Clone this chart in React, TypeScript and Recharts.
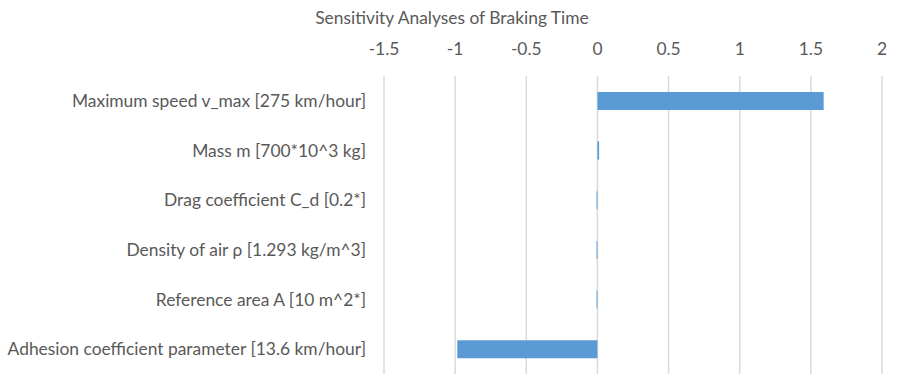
import { BarChart, Bar, XAxis, YAxis, CartesianGrid } from 'recharts'

const parameters = [
  'Maximum speed v_max [275 km/hour]',
  'Mass m [700*10^3 kg]',
  'Drag coefficient C_d [0.2*]',
  'Density of air ρ [1.293 kg/m^3]',
  'Reference area A [10 m^2*]',
  'Adhesion coefficient parameter [13.6 km/hour]',
]
const sensitivity = [1.59, 0.012, -0.006, -0.006, -0.006, -0.985]
const xTicks = [-1.5, -1, -0.5, 0, 0.5, 1, 1.5, 2]

const chartData = parameters.map((name, i) => ({ name, value: sensitivity[i] }))

const textColor = '#595959'
const fontFamily = 'Lato, "Open Sans", sans-serif'
const fontSize = 17.4

export default function App() {
  return (
    <div style={{ position: 'absolute', left: 0, top: 0, width: 900, height: 387, background: '#fff', fontFamily }}>
      <div
        style={{
          position: 'absolute',
          top: 7,
          left: 0,
          width: 900,
          textAlign: 'center',
          fontSize,
          lineHeight: '22px',
          color: textColor,
          paddingLeft: 2,
        }}
      >
        Sensitivity Analyses of Braking Time
      </div>
      <BarChart
        width={900}
        height={387}
        data={chartData}
        layout="vertical"
        margin={{ top: 46, right: 18, bottom: 13, left: 0 }}
        barCategoryGap="32%"
      >
        <CartesianGrid horizontal={false} vertical stroke="#d9d9d9" strokeWidth={1.5} />
        <XAxis
          type="number"
          orientation="top"
          domain={[-1.5, 2]}
          ticks={xTicks}
          height={30}
          axisLine={false}
          tickLine={false}
          tickSize={0}
          tickMargin={21}
          tick={{ fill: textColor, fontSize, fontFamily }}
        />
        <YAxis
          type="category"
          dataKey="name"
          width={384}
          axisLine={false}
          tickLine={false}
          tickSize={0}
          tickMargin={18}
          tick={{ fill: textColor, fontSize, fontFamily }}
        />
        <Bar dataKey="value" fill="#5b9bd5" isAnimationActive={false} />
      </BarChart>
    </div>
  )
}
